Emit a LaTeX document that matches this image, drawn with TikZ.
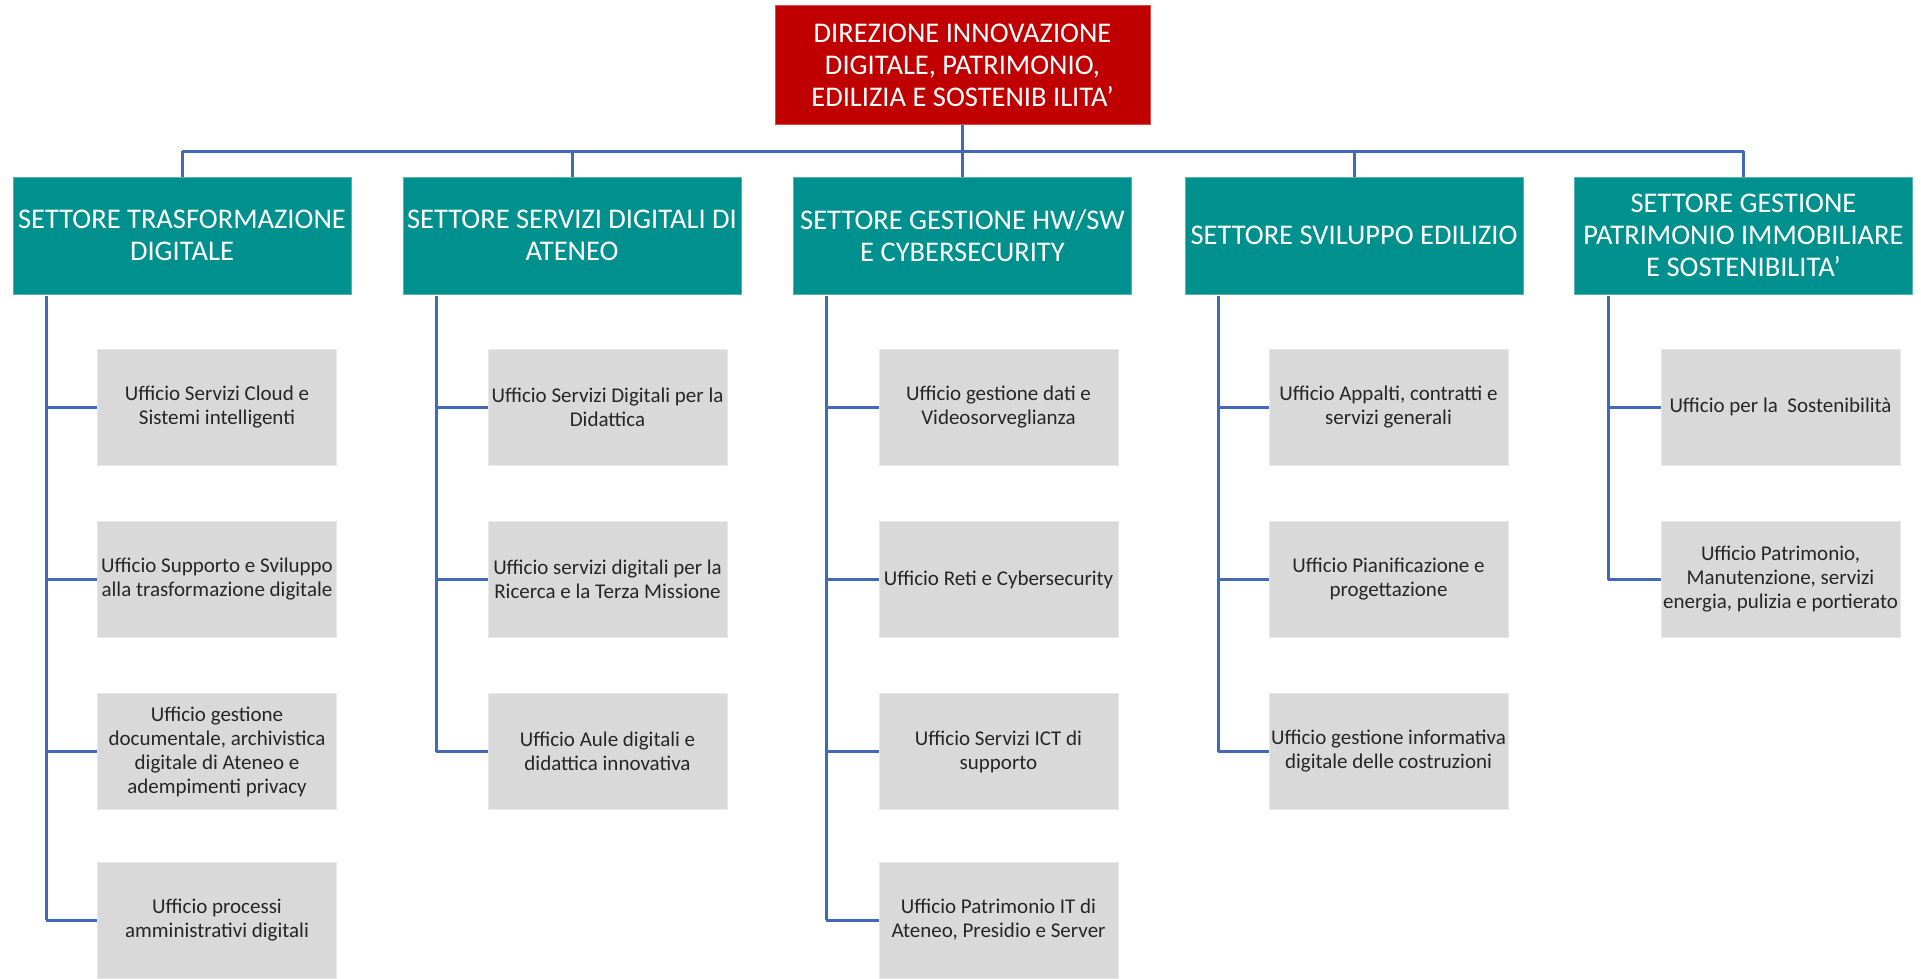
\documentclass[tikz,border=0pt]{standalone}
\usepackage{fontspec}
\setmainfont{Carlito}
\definecolor{dirred}{HTML}{C00000}
\definecolor{setteal}{HTML}{00918F}
\definecolor{setborder}{HTML}{5AB2B0}
\definecolor{uffgray}{HTML}{D9D9D9}
\definecolor{linkblue}{HTML}{4169B8}
\definecolor{txtdark}{HTML}{262626}
\tikzset{
  dirbox/.style={rectangle, fill=dirred, draw=dirred!70!white, line width=0.8pt,
    minimum width=375pt, minimum height=119pt, inner sep=0pt, align=center,
    text=white, font=\fontsize{28.5}{32}\selectfont},
  setbox/.style={rectangle, fill=setteal, draw=setborder, line width=0.8pt,
    minimum width=338pt, minimum height=117pt, inner sep=0pt, align=center,
    text=white, font=\fontsize{28.5}{32}\selectfont},
  uffbox/.style={rectangle, fill=uffgray, draw=uffgray!60!white, line width=0.6pt,
    minimum width=239pt, minimum height=116pt, inner sep=0pt, align=center,
    text=txtdark, font=\fontsize{21}{24}\selectfont},
  link/.style={draw=linkblue, line width=3pt}
}
\begin{document}
\begin{tikzpicture}[x=1pt,y=-1pt]
\useasboundingbox (0,0) rectangle (1921,978);
% director
\node[dirbox] (dir) at (962.5,65) {DIREZIONE INNOVAZIONE\\DIGITALE, PATRIMONIO,\\EDILIZIA E SOSTENIB ILITA’};
% sectors
\node[setbox] (s1) at (182,235.5) {SETTORE TRASFORMAZIONE\\DIGITALE};
\node[setbox] (s2) at (572,235.5) {SETTORE SERVIZI DIGITALI DI\\ATENEO};
\node[setbox] (s3) at (962.5,235.5) {SETTORE GESTIONE HW/SW\\E CYBERSECURITY};
\node[setbox] (s4) at (1354,235.5) {SETTORE SVILUPPO EDILIZIO};
\node[setbox] (s5) at (1743.5,235.5) {SETTORE GESTIONE\\PATRIMONIO IMMOBILIARE\\E SOSTENIBILITA’};
% offices sector 1
\node[uffbox] (c11) at (217,407) {Ufficio Servizi Cloud e\\Sistemi intelligenti};
\node[uffbox] (c12) at (217,579.5) {Ufficio Supporto e Sviluppo\\alla trasformazione digitale};
\node[uffbox] (c13) at (217,751.5) {Ufficio gestione\\documentale, archivistica\\digitale di Ateneo e\\adempimenti privacy};
\node[uffbox] (c14) at (217,920) {Ufficio processi\\amministrativi digitali};
% sector 2
\node[uffbox] (c21) at (607.5,407) {Ufficio Servizi Digitali per la\\Didattica};
\node[uffbox] (c22) at (607.5,579.5) {Ufficio servizi digitali per la\\Ricerca e la Terza Missione};
\node[uffbox] (c23) at (607.5,751.5) {Ufficio Aule digitali e\\didattica innovativa};
% sector 3
\node[uffbox] (c31) at (998.5,407) {Ufficio gestione dati e\\Videosorveglianza};
\node[uffbox] (c32) at (998.5,579.5) {Ufficio Reti e Cybersecurity};
\node[uffbox] (c33) at (998.5,751.5) {Ufficio Servizi ICT di\\supporto};
\node[uffbox] (c34) at (998.5,920) {Ufficio Patrimonio IT di\\Ateneo, Presidio e Server};
% sector 4
\node[uffbox] (c41) at (1388.5,407) {Ufficio Appalti, contratti e\\servizi generali};
\node[uffbox] (c42) at (1388.5,579.5) {Ufficio Pianificazione e\\progettazione};
\node[uffbox] (c43) at (1388.5,751.5) {Ufficio gestione informativa\\digitale delle costruzioni};
% sector 5
\node[uffbox] (c51) at (1780.5,407) {Ufficio per la~ Sostenibilità};
\node[uffbox] (c52) at (1780.5,579.5) {Ufficio Patrimonio,\\Manutenzione, servizi\\energia, pulizia e portierato};
% bus and spines
\coordinate (bus) at (0,151);
\coordinate (sp1) at (46,0);
\coordinate (sp2) at (436,0);
\coordinate (sp3) at (826,0);
\coordinate (sp4) at (1218,0);
\coordinate (sp5) at (1608,0);
\draw[link] (dir.south) -- (dir.south |- bus);
\draw[link] (s1.north |- bus) -- (s5.north |- bus);
\foreach \s in {s1,s2,s3,s4,s5}{
  \draw[link] (\s.north |- bus) -- (\s.north);
}
% spines
\draw[link] ([yshift=-2pt]sp1 |- s1.south) -- (sp1 |- c14.west);
\draw[link] ([yshift=-2pt]sp2 |- s2.south) -- (sp2 |- c23.west);
\draw[link] ([yshift=-2pt]sp3 |- s3.south) -- (sp3 |- c34.west);
\draw[link] ([yshift=-2pt]sp4 |- s4.south) -- (sp4 |- c43.west);
\draw[link] ([yshift=-2pt]sp5 |- s5.south) -- (sp5 |- c52.west);
\foreach \c in {c11,c12,c13,c14}{\draw[link] (sp1 |- \c.west) -- (\c.west);}
\foreach \c in {c21,c22,c23}{\draw[link] (sp2 |- \c.west) -- (\c.west);}
\foreach \c in {c31,c32,c33,c34}{\draw[link] (sp3 |- \c.west) -- (\c.west);}
\foreach \c in {c41,c42,c43}{\draw[link] (sp4 |- \c.west) -- (\c.west);}
\foreach \c in {c51,c52}{\draw[link] (sp5 |- \c.west) -- (\c.west);}
\end{tikzpicture}
\end{document}
